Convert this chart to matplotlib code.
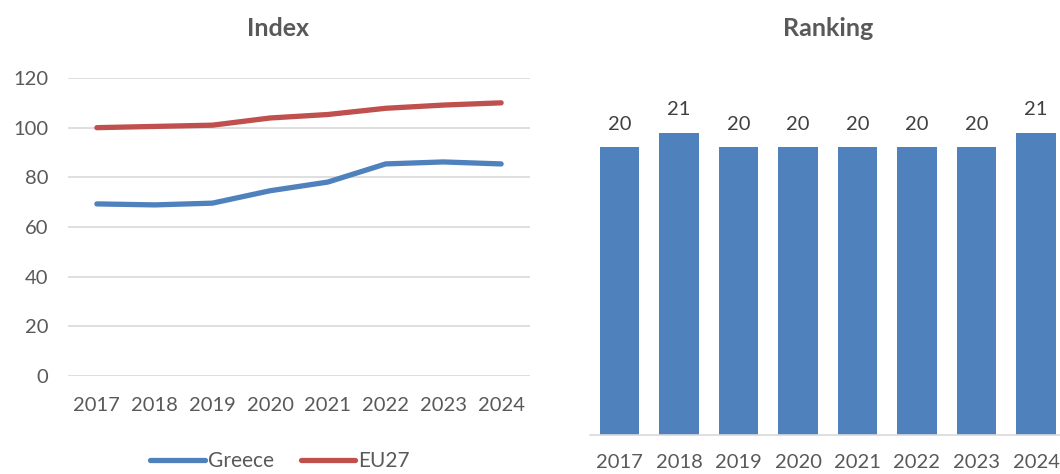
import matplotlib
matplotlib.use("Agg")
import matplotlib.pyplot as plt
import numpy as np

plt.rcParams['font.family'] = ['Lato', 'DejaVu Sans']

years = ["2017", "2018", "2019", "2020", "2021", "2022", "2023", "2024"]
greece = [69.3, 68.9, 69.6, 74.6, 78.1, 85.4, 86.2, 85.4]
eu27 = [100.0, 100.5, 101.0, 103.9, 105.3, 107.8, 109.1, 110.0]
ranking = [20, 21, 20, 20, 20, 20, 20, 21]

blue = '#4F81BD'
red = '#C0504D'
grid = '#D9D9D9'
txt = '#595959'
fs = 14.5

fig = plt.figure(figsize=(10.6, 4.74), dpi=100)

# left: index lines
ax1 = fig.add_axes([68/1060, 1-376/474, 462/1060, 298/474])
x = np.arange(len(years))
ax1.plot(x, greece, color=blue, linewidth=3.8, solid_capstyle='round', label="Greece")
ax1.plot(x, eu27, color=red, linewidth=3.8, solid_capstyle='round', label="EU27")
ax1.set_xlim(-0.5, len(years) - 0.5)
ax1.set_ylim(0, 120)
ax1.set_yticks(np.arange(0, 121, 20))
ax1.set_xticks(x)
ax1.set_xticklabels(years)
ax1.yaxis.grid(True, color=grid, linewidth=1.2)
ax1.set_axisbelow(True)
for s in ax1.spines.values():
    s.set_visible(False)
ax1.tick_params(axis='both', length=0, labelsize=fs, colors=txt)
ax1.tick_params(axis='y', pad=14)
ax1.tick_params(axis='x', pad=15)
fig.text(278/1060, 1-29/474, "Index", ha='center', va='center',
         fontsize=18, fontweight='bold', color=txt)
fig.legend(loc='center', bbox_to_anchor=(280/1060, 1-461/474), ncol=2,
           frameon=False, fontsize=15, handlelength=2.6, handletextpad=0.15,
           columnspacing=1.3, labelcolor=txt)

# right: ranking bars
ax2 = fig.add_axes([589.75/1060, 1-435/474, 476/1060, 360/474])
bars = ax2.bar(x, ranking, width=0.67, color=blue)
ax2.set_xlim(-0.5, len(years) - 0.5)
ax2.set_ylim(0, 25)
ax2.set_xticks(x)
ax2.set_xticklabels(years)
ax2.set_yticks([])
for k, s in ax2.spines.items():
    s.set_visible(k == 'bottom')
ax2.spines['bottom'].set_color(grid)
ax2.spines['bottom'].set_linewidth(1.2)
ax2.tick_params(axis='x', length=0, labelsize=fs, colors=txt, pad=14)
for b, v in zip(bars, ranking):
    ax2.text(b.get_x() + b.get_width()/2, v + 1.0, str(v), ha='center',
             va='bottom', fontsize=fs, color='#404040')
fig.text(828/1060, 1-28/474, "Ranking", ha='center', va='center',
         fontsize=18, fontweight='bold', color=txt)

fig.savefig("out.png", dpi=100)
